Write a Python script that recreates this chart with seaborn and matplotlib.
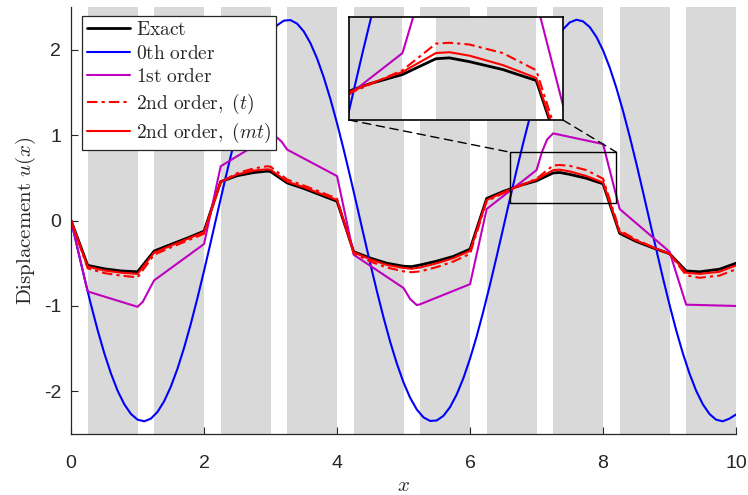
import numpy as np
import pandas as pd
import matplotlib
matplotlib.use("Agg")
import matplotlib.pyplot as plt
import seaborn as sns
from matplotlib.patches import Rectangle, ConnectionPatch

# ---------------- data ----------------
layer_start = [0.25, 1.25, 2.25, 3.25, 4.25, 5.25, 6.25, 7.25, 8.25, 9.25]
layer_end = [1.0, 2.0, 3.0, 4.0, 5.0, 6.0, 7.0, 8.0, 9.0, 10.0]

x_0th = np.linspace(0, 10, 101)
u_0th = [0.000, -0.338, -0.670, -0.987, -1.284, -1.554, -1.791, -1.992, -2.150, -2.264,
         -2.331, -2.350, -2.319, -2.240, -2.115, -1.945, -1.735, -1.489, -1.212, -0.909,
         -0.588, -0.254, 0.085, 0.422, 0.750, 1.063, 1.354, 1.616, 1.845, 2.035,
         2.183, 2.286, 2.340, 2.346, 2.304, 2.213, 2.076, 1.896, 1.676, 1.422,
         1.138, 0.830, 0.505, 0.170, -0.170, -0.505, -0.830, -1.138, -1.422, -1.676,
         -1.896, -2.076, -2.213, -2.304, -2.346, -2.340, -2.286, -2.183, -2.035, -1.845,
         -1.616, -1.354, -1.063, -0.750, -0.422, -0.085, 0.254, 0.588, 0.909, 1.212,
         1.489, 1.735, 1.945, 2.115, 2.240, 2.319, 2.350, 2.331, 2.264, 2.150,
         1.992, 1.791, 1.554, 1.284, 0.987, 0.670, 0.338, 0.000, -0.338, -0.670,
         -0.987, -1.284, -1.554, -1.791, -1.992, -2.150, -2.264, -2.331, -2.350, -2.319,
         -2.270]

x_nodes = [0, 0.25, 0.5, 0.75, 1.0, 1.25, 1.5, 1.75, 2.0, 2.25, 2.5, 2.75, 2.95, 3.0,
           3.25, 3.5, 3.75, 4.0, 4.25, 4.5, 4.75, 5.0, 5.12, 5.25, 5.5, 5.75, 6.0,
           6.25, 6.5, 6.75, 7.0, 7.25, 7.35, 7.5, 7.75, 8.0, 8.25, 8.5, 8.75, 9.0,
           9.25, 9.45, 9.75, 10.0]
u_exact = [0, -0.525, -0.565, -0.59, -0.60, -0.357, -0.28, -0.205, -0.124, 0.455, 0.525,
           0.562, 0.578, 0.573, 0.44, 0.375, 0.30, 0.225, -0.365, -0.44, -0.50, -0.535,
           -0.54, -0.52, -0.475, -0.42, -0.335, 0.258, 0.34, 0.41, 0.465, 0.557, 0.562,
           0.54, 0.494, 0.43, -0.15, -0.245, -0.32, -0.388, -0.59, -0.60, -0.57, -0.50]
u_2nd_mt = [0, -0.54, -0.585, -0.61, -0.625, -0.375, -0.295, -0.215, -0.135, 0.455, 0.54,
            0.585, 0.60, 0.595, 0.455, 0.39, 0.315, 0.24, -0.37, -0.455, -0.52, -0.555,
            -0.565, -0.55, -0.50, -0.44, -0.355, 0.24, 0.33, 0.41, 0.48, 0.59, 0.595,
            0.575, 0.52, 0.445, -0.135, -0.235, -0.315, -0.39, -0.61, -0.625, -0.60, -0.525]
u_2nd_t = [0, -0.56, -0.615, -0.645, -0.665, -0.40, -0.315, -0.235, -0.155, 0.45, 0.555,
           0.61, 0.635, 0.63, 0.48, 0.41, 0.335, 0.255, -0.38, -0.48, -0.55, -0.595,
           -0.605, -0.595, -0.545, -0.48, -0.39, 0.225, 0.32, 0.405, 0.49, 0.645, 0.65,
           0.64, 0.59, 0.49, -0.115, -0.225, -0.31, -0.39, -0.64, -0.67, -0.645, -0.57]

x_1st = [0, 0.25, 1.0, 1.08, 1.18, 1.25, 2.0, 2.25, 3.0, 3.1, 3.17, 3.25, 4.0, 4.25,
         5.0, 5.1, 5.2, 5.25, 6.0, 6.25, 7.0, 7.08, 7.16, 7.25, 8.0, 8.25, 9.0, 9.25, 10.0]
u_1st = [0, -0.83, -1.01, -0.95, -0.80, -0.70, -0.275, 0.635, 0.99, 0.97, 0.92, 0.83,
         0.52, -0.40, -0.79, -0.92, -0.99, -0.98, -0.745, 0.135, 0.59, 0.80, 0.95, 1.02,
         0.895, 0.135, -0.365, -0.985, -1.0]

labels = [r'$\mathrm{Exact}$', r'$\mathrm{0th\ order}$', r'$\mathrm{1st\ order}$',
          r'$\mathrm{2nd\ order,}\ (t)$', r'$\mathrm{2nd\ order,}\ (mt)$']

# ---------------- style ----------------
sns.set_theme(style="ticks")
plt.rcParams['font.family'] = ['Liberation Sans', 'DejaVu Sans']
plt.rcParams['mathtext.fontset'] = 'cm'
plt.rcParams['axes.unicode_minus'] = False

series = [
    (x_nodes, u_exact, dict(color='black', lw=2.0, linestyle='-')),
    (x_0th, u_0th, dict(color='#0000ff', lw=1.5, linestyle='-')),
    (x_1st, u_1st, dict(color='#bf00bf', lw=1.5, linestyle='-')),
    (x_nodes, u_2nd_t, dict(color='#ff0000', lw=1.5, linestyle=(0, (5, 2, 1.5, 2)))),
    (x_nodes, u_2nd_mt, dict(color='#ff0000', lw=1.5, linestyle='-')),
]

fig = plt.figure(figsize=(7.48, 4.95), dpi=100)
ax = fig.add_axes([0.095, 0.123, 0.889, 0.863])


def draw(a, with_labels):
    for s, e in zip(layer_start, layer_end):
        a.axvspan(s, e, color='#d9d9d9', lw=0, zorder=0)
    handles = []
    for (xx, yy, kw), lab in zip(series, labels):
        sns.lineplot(x=np.asarray(xx, float), y=np.asarray(yy, float), ax=a,
                     estimator=None, sort=False, legend=False,
                     label=lab if with_labels else None, **kw)
        handles.append(a.lines[-1])
    return handles


handles = draw(ax, True)
ax.set_xlim(0, 10)
ax.set_ylim(-2.5, 2.5)
ax.set_xticks([0, 2, 4, 6, 8, 10])
ax.set_yticks([-2, -1, 0, 1, 2])
ax.set_xticklabels(['0', '2', '4', '6', '8', '10'])
ax.set_yticklabels(['-2', '-1', '0', '1', '2'])
for sp in ['top', 'right']:
    ax.spines[sp].set_visible(False)
for sp in ['left', 'bottom']:
    ax.spines[sp].set_color('#262626')
    ax.spines[sp].set_linewidth(0.9)
ax.tick_params(direction='in', length=5, width=0.8, colors='#262626',
               labelsize=14)
ax.tick_params(axis='x', pad=15)
ax.tick_params(axis='y', pad=7)
ax.set_xlabel(r'$x$', fontsize=15, labelpad=3)
ax.set_ylabel(r'$\mathrm{Displacement}\ u(x)$', fontsize=15, labelpad=4)
ax.set_facecolor('white')

leg = ax.legend(handles, labels, loc='upper left', bbox_to_anchor=(0.017, 0.978),
                fontsize=14, frameon=True, fancybox=False, framealpha=1,
                edgecolor='#262626', handlelength=2.2, handletextpad=0.3,
                labelspacing=0.28, borderpad=0.25, borderaxespad=0)
leg.get_frame().set_linewidth(0.9)

# zoom rectangle
ax.add_patch(Rectangle((6.6, 0.2), 1.6, 0.6, fill=False, ec='black', lw=1.0, zorder=5))

# inset
axins = fig.add_axes([0.4666, 0.7576, 0.286, 0.208])
draw(axins, False)
axins.set_xlim(6.6, 8.2)
axins.set_ylim(0.2, 0.8)
axins.set_xticks([])
axins.set_yticks([])
axins.set_xlabel('')
axins.set_ylabel('')
for sp in axins.spines.values():
    sp.set_visible(True)
    sp.set_color('black')
    sp.set_linewidth(1.2)

for (xa, xd) in [(0, 6.6), (1, 8.2)]:
    con = ConnectionPatch(xyA=(xa, 0), coordsA=axins.transAxes,
                          xyB=(xd, 0.8), coordsB=ax.transData,
                          color='black', lw=1.0, linestyle=(0, (6, 4)))
    fig.add_artist(con)

fig.savefig('out.png', dpi=100)
